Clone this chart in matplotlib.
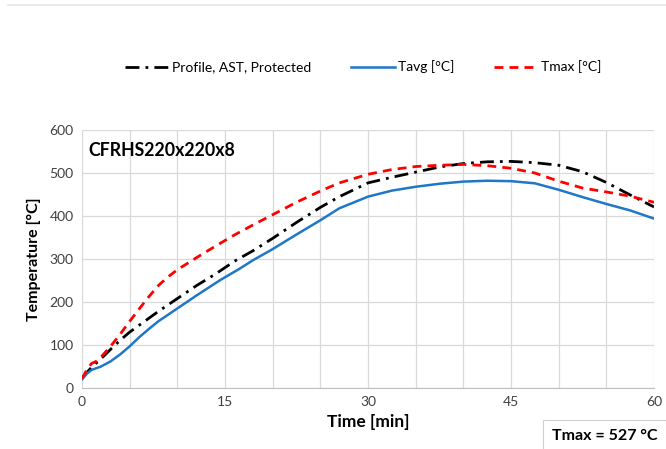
import matplotlib
matplotlib.use("Agg")
import matplotlib.pyplot as plt
from matplotlib.lines import Line2D

plt.rcParams['font.family'] = ['Lato', 'DejaVu Sans']

# Time axis samples [min]
t_profile = [0, 0.5, 1, 2, 3, 4, 5, 6, 7, 8, 10, 12, 14, 16, 18, 20, 22.5, 25, 27,
             30, 32.5, 35, 37.5, 40, 42.5, 45, 47.5, 50, 52.5, 55, 57.5, 60]
profile = [22, 36, 48, 68, 90, 111, 130, 146, 162, 178, 208, 238, 265, 295, 320,
           348, 385, 420, 445, 477, 490, 502, 514, 522, 526, 527, 524, 518, 503,
           478, 449, 421]

t_avg = [0, 0.5, 1, 2, 3, 4, 5, 6, 7, 8, 10, 12, 14.5, 16.5, 18, 20, 22.5, 25, 27,
         30, 32.5, 35, 37.5, 40, 42.5, 45, 47.5, 50, 52.5, 55, 57.5, 60]
tavg = [20, 33, 42, 50, 62, 78, 97, 118, 137, 155, 185, 215, 251, 277, 298, 323,
        357, 390, 418, 445, 459, 468, 475, 480, 482, 481, 476, 461, 444, 428, 413,
        394]

t_max = [0, 0.5, 1, 1.5, 2, 3, 4, 5, 6, 7, 8, 9, 10, 12, 14, 16, 18, 20, 22.5, 25,
         27, 30, 32.5, 35, 37.5, 40, 42.5, 45, 47.5, 50, 52.5, 55, 57.5, 60]
tmax = [22, 42, 57, 62, 72, 97, 125, 155, 184, 212, 238, 258, 275, 303, 330, 356,
        380, 403, 432, 458, 477, 497, 508, 515, 518, 520, 517, 511, 500, 481, 465,
        456, 446, 432]

x_ticks = [0, 15, 30, 45, 60]
y_ticks = [0, 100, 200, 300, 400, 500, 600]
section_name = "CFRHS220x220x8"
peak_label = "Tmax = 527 °C"

fig = plt.figure(figsize=(6.66, 4.49), dpi=100)
ax = fig.add_axes([82 / 666, 61 / 449, 572 / 666, 258 / 449])

grid_c = '#d9d9d9'
ax.set_xlim(0, 60)
ax.set_ylim(0, 600)
ax.set_yticks(y_ticks)
ax.set_xticks(x_ticks)
ax.set_xticks(range(0, 61, 5), minor=True)
ax.grid(True, which='major', color=grid_c, linewidth=0.9)
ax.grid(True, which='minor', axis='x', color=grid_c, linewidth=0.9)
ax.tick_params(which='both', length=0, labelsize=10, colors='#404040', pad=6)
for side in ['top', 'right', 'left']:
    ax.spines[side].set_visible(False)
ax.spines['bottom'].set_color('#bfbfbf')
ax.set_axisbelow(True)

ax.plot(t_profile, profile, color='black', linewidth=2.0,
        dashes=(5, 2.2, 1, 2.2), label='Profile, AST, Protected')
ax.plot(t_avg, tavg, color='#1f77c8', linewidth=1.8, label='Tavg [°C]')
ax.plot(t_max, tmax, color='#ff0000', linewidth=2.0, dashes=(3.2, 2.2),
        label='Tmax [°C]')

ax.set_xlabel('Time [min]', fontsize=12.5, fontweight='bold', labelpad=4)
ax.set_ylabel('Temperature [°C]', fontsize=11.5, fontweight='bold', labelpad=6)

ax.text(0.012, 0.955, section_name, transform=ax.transAxes, fontsize=12.8,
        fontweight='bold', va='top', ha='left')

fig.legend(loc='center', bbox_to_anchor=(363 / 666, 1 - 67 / 449), ncol=3,
           frameon=False, fontsize=10, handlelength=3.2, columnspacing=2.85,
           handletextpad=0.2)

# peak temperature box in the lower right corner
fig.text(552 / 666, 1 - 436 / 449, peak_label, fontsize=11.5, fontweight='bold',
         va='center', ha='left',
         bbox=dict(boxstyle='square,pad=0.55', facecolor='white',
                   edgecolor='#d0d0d0', linewidth=0.8))

fig.add_artist(Line2D([8 / 666, 1], [1 - 5 / 449, 1 - 5 / 449],
                      color='#e6e6e6', linewidth=1.2))

fig.savefig('out.png', dpi=100)
